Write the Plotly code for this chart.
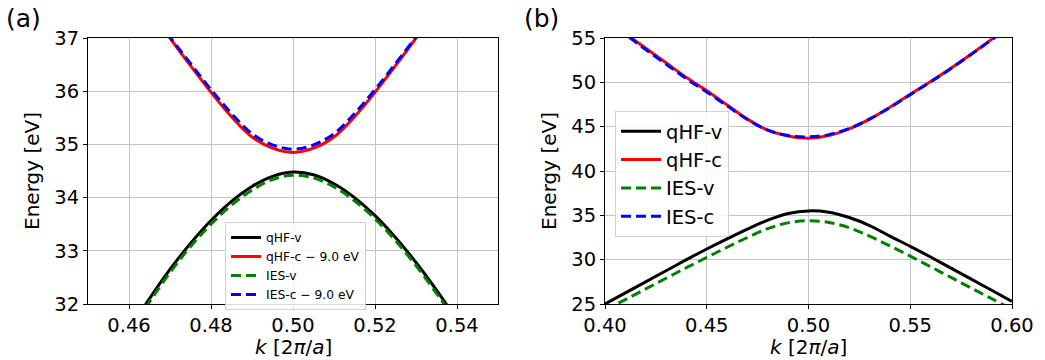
import plotly.graph_objects as go

# ---- data: panel (a) ----
k_a_c = [0.465, 0.47, 0.475, 0.48, 0.485, 0.49, 0.495, 0.50, 0.505, 0.51, 0.515, 0.52, 0.525, 0.53, 0.535]
qhf_c_a = [37.55, 37.0, 36.48, 35.98, 35.52, 35.14, 34.93, 34.85, 34.93, 35.14, 35.52, 35.98, 36.48, 37.0, 37.55]
ies_c_a = [37.55, 37.02, 36.52, 36.03, 35.58, 35.2, 34.99, 34.91, 34.99, 35.2, 35.58, 36.03, 36.52, 37.02, 37.55]

k_a_v = [0.46, 0.465, 0.47, 0.475, 0.48, 0.485, 0.49, 0.495, 0.50, 0.505, 0.51, 0.515, 0.52, 0.525, 0.53, 0.535, 0.54]
qhf_v_a = [31.5, 32.1, 32.65, 33.14, 33.57, 33.93, 34.21, 34.4, 34.48, 34.43, 34.26, 34.0, 33.66, 33.25, 32.78, 32.26, 31.7]
ies_v_a = [31.45, 32.04, 32.59, 33.08, 33.5, 33.86, 34.14, 34.34, 34.42, 34.37, 34.2, 33.94, 33.6, 33.19, 32.72, 32.2, 31.64]

# ---- data: panel (b) ----
k_b = [0.40, 0.41, 0.42, 0.43, 0.44, 0.45, 0.46, 0.47, 0.48, 0.49, 0.50,
       0.51, 0.52, 0.53, 0.54, 0.55, 0.56, 0.57, 0.58, 0.59, 0.60]
qhf_v_b = [25.0, 26.25, 27.5, 28.75, 30.0, 31.2, 32.35, 33.45, 34.45, 35.2, 35.5,
           35.35, 34.75, 33.85, 32.65, 31.5, 30.3, 29.05, 27.8, 26.55, 25.3]
ies_v_b = [24.3, 25.5, 26.7, 27.9, 29.1, 30.25, 31.4, 32.5, 33.5, 34.15, 34.4,
           34.2, 33.6, 32.65, 31.55, 30.4, 29.2, 28.0, 26.8, 25.6, 24.4]
qhf_c_b = [57.2, 55.5, 53.85, 52.2, 50.55, 49.05, 47.45, 45.85, 44.6, 43.95, 43.7,
           44.0, 44.75, 45.85, 47.2, 48.65, 50.1, 51.6, 53.2, 54.85, 56.5]
ies_c_b = [57.1, 55.4, 53.7, 52.05, 50.4, 48.9, 47.35, 45.8, 44.6, 44.0, 43.85,
           44.1, 44.8, 45.85, 47.15, 48.6, 50.05, 51.55, 53.15, 54.8, 56.45]

FONT = "DejaVu Sans"
FS = 19.5
FT = 20
LW = 3
DASH = "10px,5px"

fig = go.Figure()

def add(x, y, name, color, dash, xa, ya, group):
    fig.add_trace(go.Scatter(x=x, y=y, mode="lines", name=name,
                             line=dict(color=color, width=LW, dash=dash, shape="spline"),
                             xaxis=xa, yaxis=ya, legend=group))

add(k_a_v, qhf_v_a, "qHF-v", "black", "solid", "x", "y", "legend")
add(k_a_c, qhf_c_a, "qHF-c \u2212 9.0 eV", "red", "solid", "x", "y", "legend")
add(k_a_v, ies_v_a, "IES-v", "green", DASH, "x", "y", "legend")
add(k_a_c, ies_c_a, "IES-c \u2212 9.0 eV", "blue", DASH, "x", "y", "legend")

add(k_b, qhf_v_b, "qHF-v", "black", "solid", "x2", "y2", "legend2")
add(k_b, qhf_c_b, "qHF-c", "red", "solid", "x2", "y2", "legend2")
add(k_b, ies_v_b, "IES-v", "green", DASH, "x2", "y2", "legend2")
add(k_b, ies_c_b, "IES-c", "blue", DASH, "x2", "y2", "legend2")

W, H = 1045, 360
def dom_x(a, b):
    return [a / W, b / W]
ydom = [1 - 304 / H, 1 - 38 / H]

axcommon = dict(showline=True, linecolor="black", linewidth=1, mirror=True,
                ticks="outside", ticklen=4, tickcolor="black",
                showgrid=True, gridcolor="#c4c4c4", gridwidth=1,
                zeroline=False, tickfont=dict(size=FS, family=FONT, color="black"),
                automargin=False)
ytitle = dict(text="Energy [eV]", font=dict(size=FT, family=FONT, color="black"), standoff=9)
xtitle_text = "<i>k</i> [2<i>\u03c0</i>/<i>a</i>]"

fig.update_layout(
    width=W, height=H,
    margin=dict(l=0, r=0, t=0, b=0),
    paper_bgcolor="white", plot_bgcolor="white",
    font=dict(family=FONT, color="black"),
    xaxis=dict(domain=dom_x(88, 498), range=[0.45, 0.55], tickvals=[0.46, 0.48, 0.50, 0.52, 0.54],
               ticktext=["0.46", "0.48", "0.50", "0.52", "0.54"], anchor="y", **axcommon),
    yaxis=dict(domain=ydom, range=[32, 37], dtick=1, anchor="x", title=ytitle, **axcommon),
    xaxis2=dict(domain=dom_x(605, 1012), range=[0.40, 0.60], tickvals=[0.40, 0.45, 0.50, 0.55, 0.60],
                ticktext=["0.40", "0.45", "0.50", "0.55", "0.60"], anchor="y2", **axcommon),
    yaxis2=dict(domain=ydom, range=[25, 55], dtick=5, anchor="x2", title=ytitle, **axcommon),
    legend=dict(x=225 / W, y=1 - 222 / H, xanchor="left", yanchor="top",
                bgcolor="rgba(255,255,255,0.85)", bordercolor="#d0d0d0", borderwidth=1,
                font=dict(size=12.3, family=FONT), tracegroupgap=0, itemwidth=30),
    legend2=dict(x=615 / W, y=1 - 111 / H, xanchor="left", yanchor="top",
                 bgcolor="rgba(255,255,255,0.85)", bordercolor="#d0d0d0", borderwidth=1,
                 font=dict(size=19.5, family=FONT), tracegroupgap=0, itemwidth=40),
    showlegend=True,
    annotations=[
        dict(text="(a)", x=4 / W, y=1 - 2 / H, xref="paper", yref="paper", xanchor="left", yanchor="top",
             showarrow=False, font=dict(size=25, family=FONT, color="black")),
        dict(text="(b)", x=522 / W, y=1 - 2 / H, xref="paper", yref="paper", xanchor="left", yanchor="top",
             showarrow=False, font=dict(size=25, family=FONT, color="black")),
        dict(text=xtitle_text, x=0.5, y=0, xref="x domain", yref="paper", xanchor="center", yanchor="bottom",
             showarrow=False, font=dict(size=FT, family=FONT, color="black"), borderpad=0),
        dict(text=xtitle_text, x=0.5, y=0, xref="x2 domain", yref="paper", xanchor="center", yanchor="bottom",
             showarrow=False, font=dict(size=FT, family=FONT, color="black"), borderpad=0),
    ],
)

fig.write_html("out.html")
